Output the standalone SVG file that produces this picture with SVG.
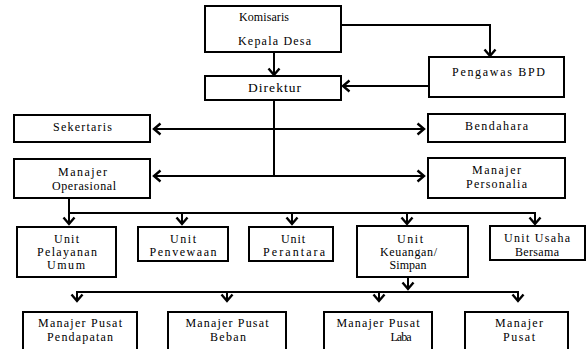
<svg xmlns="http://www.w3.org/2000/svg" width="587" height="349" viewBox="0 0 587 349">
<style>
.box{fill:#fff;stroke:#000;stroke-width:2}
.t{font-family:'Liberation Serif', serif;font-size:12px;fill:#000;text-anchor:middle}
.c{fill:none;stroke:#000;stroke-width:2}
</style>
<defs>
<marker id="ah" viewBox="-10 -8 12 16" markerWidth="12" markerHeight="16" refX="0" refY="0" orient="auto" markerUnits="userSpaceOnUse">
<path d="M-6.5,-5.5 L0,0 L-6.5,5.5" fill="none" stroke="#000" stroke-width="2.4"/>
</marker>
</defs>
<rect width="587" height="349" fill="#fff"/>
<g id="connectors">
<path class="c" d="M274,52 V75" marker-end="url(#ah)"/>
<path class="c" d="M341,25 H490 V56" marker-end="url(#ah)"/>
<path class="c" d="M429,86 H343" marker-end="url(#ah)"/>
<path class="c" d="M274,100 V176"/>
<path class="c" d="M274,129 H154" marker-end="url(#ah)"/>
<path class="c" d="M274,129 H424" marker-end="url(#ah)"/>
<path class="c" d="M274,176 H154" marker-end="url(#ah)"/>
<path class="c" d="M274,176 H424" marker-end="url(#ah)"/>
<path class="c" d="M69,198 V224" marker-end="url(#ah)"/>
<path class="c" d="M68,213 H536"/>
<path class="c" d="M182,213 V224" marker-end="url(#ah)"/>
<path class="c" d="M292,213 V224" marker-end="url(#ah)"/>
<path class="c" d="M407,213 V224" marker-end="url(#ah)"/>
<path class="c" d="M535,213 V224" marker-end="url(#ah)"/>
<path class="c" d="M408,277 V289" marker-end="url(#ah)"/>
<path class="c" d="M76,292 H519"/>
<path class="c" d="M77,292 V301" marker-end="url(#ah)"/>
<path class="c" d="M227,292 V301" marker-end="url(#ah)"/>
<path class="c" d="M379,292 V301" marker-end="url(#ah)"/>
<path class="c" d="M518,292 V301" marker-end="url(#ah)"/>
</g>
<g id="komisaris" font-family="Liberation Serif">
<rect class="box" x="205" y="6" width="136" height="46"/>
<text class="t" x="264" y="21" textLength="50">Komisaris</text>
<text class="t" x="274.5" y="45" textLength="73">Kepala Desa</text>
</g>
<g id="direktur">
<rect class="box" x="205" y="76" width="136" height="24"/>
<text class="t" x="274.5" y="92" textLength="53" style="font-size:13.5px">Direktur</text>
</g>
<g id="pengawas">
<rect class="box" x="429" y="57" width="135" height="40"/>
<text class="t" x="498.5" y="76" textLength="93">Pengawas BPD</text>
</g>
<g id="sekertaris">
<rect class="box" x="14" y="115" width="136" height="27"/>
<text class="t" x="82.5" y="131" textLength="59">Sekertaris</text>
</g>
<g id="bendahara">
<rect class="box" x="428" y="114" width="137" height="28"/>
<text class="t" x="496.5" y="130" textLength="63">Bendahara</text>
</g>
<g id="manajer-operasional">
<rect class="box" x="14" y="159" width="136" height="39"/>
<text class="t" x="82.5" y="175.5" textLength="49">Manajer</text>
<text class="t" x="84" y="190" textLength="64">Operasional</text>
</g>
<g id="manajer-personalia">
<rect class="box" x="428" y="158" width="137" height="40"/>
<text class="t" x="496.5" y="174" textLength="49">Manajer</text>
<text class="t" x="496.5" y="187.5" textLength="61">Personalia</text>
</g>
<g id="unit-pelayanan">
<rect class="box" x="17" y="227" width="99" height="50"/>
<text class="t" x="66.5" y="243" textLength="25">Unit</text>
<text class="t" x="67" y="255.5" textLength="60">Pelayanan</text>
<text class="t" x="66" y="268.5" textLength="38">Umum</text>
</g>
<g id="unit-penyewaan">
<rect class="box" x="138" y="227" width="90" height="34"/>
<text class="t" x="183" y="243" textLength="26">Unit</text>
<text class="t" x="183" y="255.5" textLength="67">Penvewaan</text>
</g>
<g id="unit-perantara">
<rect class="box" x="249" y="227" width="84" height="34"/>
<text class="t" x="293" y="243" textLength="24">Unit</text>
<text class="t" x="294" y="255.5" textLength="62">Perantara</text>
</g>
<g id="unit-keuangan">
<rect class="box" x="357" y="226" width="111" height="51"/>
<text class="t" x="410" y="243" textLength="26">Unit</text>
<text class="t" x="408.5" y="255.5" textLength="57">Keuangan/</text>
<text class="t" x="408" y="268.5" textLength="37">Simpan</text>
</g>
<g id="unit-usaha">
<rect class="box" x="490" y="226" width="95" height="34"/>
<text class="t" x="537" y="242" textLength="66">Unit Usaha</text>
<text class="t" x="537" y="255.5" textLength="44">Bersama</text>
</g>
<g id="mp-pendapatan">
<rect class="box" x="23" y="312" width="114" height="50"/>
<text class="t" x="80" y="327" textLength="84">Manajer Pusat</text>
<text class="t" x="80" y="340.7" textLength="66">Pendapatan</text>
</g>
<g id="mp-beban">
<rect class="box" x="168" y="312" width="118" height="50"/>
<text class="t" x="227" y="327" textLength="83">Manajer Pusat</text>
<text class="t" x="228" y="340.7" textLength="36">Beban</text>
</g>
<g id="mp-laba">
<rect class="box" x="324" y="312" width="108" height="50"/>
<text class="t" x="378" y="327" textLength="83">Manajer Pusat</text>
<text class="t" x="401" y="340.7" textLength="21">Laba</text>
</g>
<g id="mp-pusat">
<rect class="box" x="465" y="312" width="103" height="50"/>
<text class="t" x="519" y="327" textLength="48">Manajer</text>
<text class="t" x="519" y="340.7" textLength="32">Pusat</text>
</g>
</svg>
